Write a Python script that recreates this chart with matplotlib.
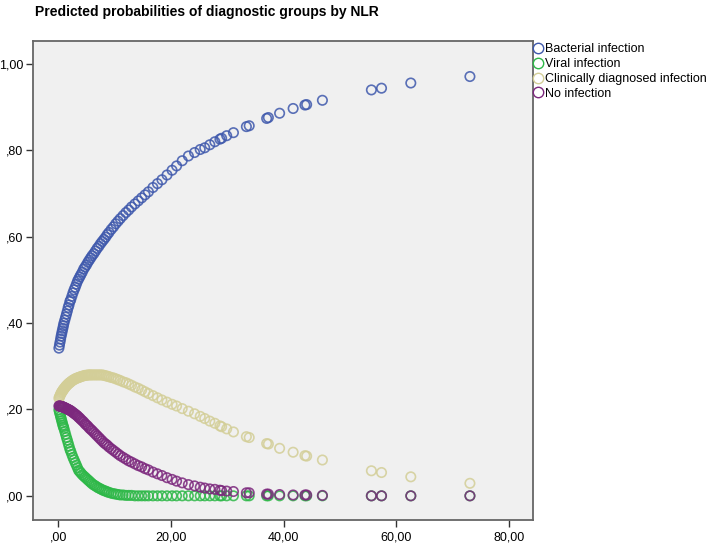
import matplotlib
matplotlib.use('Agg')
import matplotlib.pyplot as plt
from matplotlib.ticker import FuncFormatter
from matplotlib.lines import Line2D
from matplotlib import font_manager

#NLR values (one per patient group)
nlr = [0.1, 0.2, 0.3, 0.4, 0.5, 0.6, 0.7, 0.8, 0.9, 1.0,
       1.15, 1.3, 1.45, 1.6, 1.75, 1.9, 2.05, 2.2, 2.4, 2.6,
       2.8, 3.0, 3.2, 3.4, 3.6, 3.8, 4.0, 4.25, 4.5, 4.75,
       5.0, 5.25, 5.5, 5.75, 6.0, 6.3, 6.6, 6.9, 7.2, 7.5,
       7.8, 8.1, 8.4, 8.7, 9.0, 9.4, 9.8, 10.2, 10.6, 11.0,
       11.5, 12.0, 12.5, 13.0, 13.6, 14.2, 14.8, 15.4, 16.0, 16.8,
       17.6, 18.4, 19.3, 20.2, 21.0, 22.0, 23.1, 24.2, 25.2, 26.0,
       26.9, 27.8, 28.7, 29.0, 29.9, 31.1, 33.4, 33.9, 37.0, 37.3,
       39.3, 41.7, 43.8, 44.1, 46.9, 55.6, 57.4, 62.6, 73.1]

bacterial = [.342, .349, .356, .363, .370, .376, .382, .388, .394, .400,
             .407, .414, .421, .428, .436, .442, .450, .454, .462, .470,
             .477, .483, .490, .497, .502, .507, .512, .518, .525, .530,
             .535, .541, .546, .551, .556, .561, .567, .573, .578, .584,
             .589, .594, .599, .605, .610, .617, .623, .630, .636, .642,
             .649, .656, .662, .669, .676, .683, .690, .697, .704, .714,
             .723, .732, .743, .754, .764, .776, .787, .795, .802, .806,
             .813, .820, .826, .828, .834, .841, .855, .857, .874, .876,
             .886, .897, .905, .906, .916, .940, .944, .956, .971]

viral = [.199, .194, .189, .184, .179, .174, .169, .164, .160, .156,
         .149, .142, .135, .129, .122, .115, .108, .103, .096, .089,
         .083, .077, .071, .065, .059, .056, .053, .049, .046, .043,
         .040, .037, .034, .031, .028, .025, .023, .020, .018, .016,
         .014, .012, .011, .009, .008, .006, .005, .004, .003, .002,
         .002, .001, .001, .001, .000, .000, .000, .000, .000, .000,
         .000, .000, .000, .000, .000, .000, .000, .000, .000, .000,
         .000, .000, .000, .000, .000, .000, .000, .000, .000, .000,
         .000, .000, .000, .000, .000, .000, .000, .000, .000]

clinical = [.226, .229, .232, .235, .238, .240, .242, .244, .246, .248,
            .250, .253, .255, .257, .259, .261, .262, .264, .266, .268,
            .269, .271, .272, .273, .274, .275, .276, .277, .278, .279,
            .279, .280, .280, .280, .280, .280, .280, .280, .280, .280,
            .280, .279, .278, .277, .276, .274, .273, .271, .269, .267,
            .264, .262, .259, .256, .252, .249, .245, .241, .237, .232,
            .227, .222, .217, .212, .208, .202, .196, .190, .184, .179,
            .173, .168, .162, .160, .155, .148, .137, .135, .121, .120,
            .110, .101, .093, .092, .083, .058, .054, .044, .029]

noinf = [.208, .208, .208, .207, .207, .207, .206, .206, .205, .205,
         .204, .203, .202, .201, .200, .199, .198, .197, .195, .193,
         .191, .189, .187, .185, .182, .180, .177, .174, .171, .167,
         .164, .161, .157, .154, .151, .147, .143, .139, .135, .131,
         .127, .123, .120, .117, .113, .109, .105, .101, .097, .093,
         .089, .085, .081, .078, .074, .070, .067, .063, .060, .055,
         .051, .047, .042, .038, .034, .030, .026, .023, .020, .018,
         .016, .015, .013, .012, .011, .010, .007, .007, .004, .004,
         .003, .002, .002, .002, .001, .000, .000, .000, .000]

seriesNames = ['Bacterial infection', 'Viral infection',
               'Clinically diagnosed infection', 'No infection']
seriesColors = ['#3E58AC', '#2EB848', '#D3CE97', '#7C287D']
seriesValues = [bacterial, viral, clinical, noinf]

xTicks = [0, 20, 40, 60, 80]
yTicks = [0.0, 0.2, 0.4, 0.6, 0.8, 1.0]

plt.rcParams['font.family'] = ['Liberation Sans', 'DejaVu Sans']

#narrow face for the title, if there is one
installed = set(f.name for f in font_manager.fontManager.ttflist)
if 'Liberation Sans Narrow' in installed:
	titleFont = ['Liberation Sans Narrow', 'Liberation Sans']
	titleSize = 11.8
else:
	titleFont = ['Liberation Sans', 'DejaVu Sans']
	titleSize = 10.0

fig = plt.figure(figsize=(7.08, 5.44), dpi=100)
ax = fig.add_axes([0.0466, 0.0441, 0.7062, 0.8811])
ax.set_facecolor('#F0F0F0')

for name, col, vals in zip(seriesNames, seriesColors, seriesValues):
	ax.scatter(nlr, vals, s=46, facecolors='none', edgecolors=col,
	           linewidths=1.2, alpha=0.85, label=name)

ax.set_xlim(-4.5, 84.3)
ax.set_ylim(-0.056, 1.054)
ax.set_xticks(xTicks)
ax.set_yticks(yTicks)

def commaFmt(v, pos):
	s = '%.2f' % v
	if s.startswith('0'):
		s = s[1:]
	return s.replace('.', ',')

ax.xaxis.set_major_formatter(FuncFormatter(commaFmt))
ax.yaxis.set_major_formatter(FuncFormatter(commaFmt))
ax.tick_params(direction='out', length=5, width=1, colors='#333333',
               labelsize=9, labelcolor='black', pad=2)
ax.tick_params(axis='x', pad=3)
for sp in ax.spines.values():
	sp.set_color('#666666')
	sp.set_linewidth(1.3)

fig.text(0.049, 0.9715, 'Predicted probabilities of diagnostic groups by NLR',
         fontsize=titleSize, fontweight='bold', va='baseline', ha='left',
         family=titleFont)

handles = [Line2D([], [], marker='o', linestyle='none', markersize=7.5,
                  markerfacecolor='none', markeredgecolor=c, markeredgewidth=1.0)
           for c in seriesColors]
ax.legend(handles, seriesNames, loc='upper left', bbox_to_anchor=(0.998, 0.997),
          frameon=False, fontsize=9, handlelength=0.8, handletextpad=0.15,
          labelspacing=0.22, borderaxespad=0.0, borderpad=0.1)

fig.savefig('out.png', dpi=100)
